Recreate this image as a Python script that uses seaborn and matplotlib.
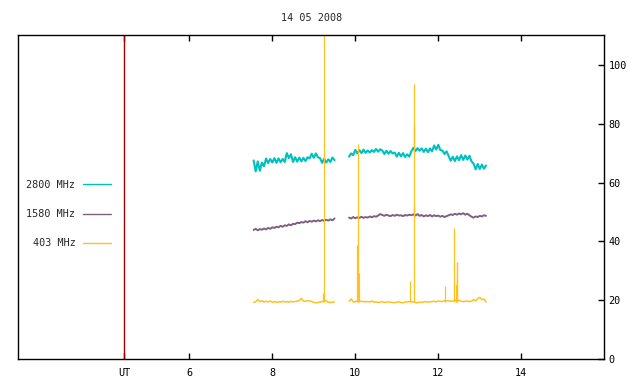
import numpy as np
import pandas as pd
import matplotlib
matplotlib.use("Agg")
import matplotlib.pyplot as plt
from matplotlib.lines import Line2D
import seaborn as sns

# time grids (UT hours), two observing segments
seg1_t = np.round(np.arange(7.55, 9.501, 0.05), 2)
seg2_t = np.round(np.arange(9.85, 13.151, 0.05), 2)

f2800_seg1 = [67.5, 63.8, 67.2, 64.0, 66.8,
              65.5, 68.2, 66.6, 68.0, 66.8,
              68.3, 66.7, 68.2, 66.9, 68.0, 67.0,
              70.0, 68.3, 69.6,
              67.0, 68.6, 67.1, 68.5, 67.2, 68.4, 67.3, 68.6,
              68.2, 69.8, 68.4, 69.9, 68.6,
              68.3, 66.7, 68.1, 66.8, 67.9,
              67.0, 68.5, 67.6]
f2800_seg2 = [68.8, 69.9, 69.3,
              71.1, 69.9, 71.0, 70.0, 71.2, 70.1, 70.9, 70.2, 71.0,
              70.4, 71.4, 70.5, 71.3,
              70.9, 69.7, 70.8, 69.8, 70.7, 69.9,
              70.2, 68.8, 70.1, 68.9, 70.0, 68.7, 69.6,
              68.8,
              70.6, 71.8, 70.7, 71.7, 70.8,
              71.6, 70.4, 71.5, 70.3, 71.6, 70.6,
              72.6, 71.2, 72.8, 71.0,
              70.9, 69.7, 70.6,
              69.0, 67.4, 68.8, 67.3, 68.9, 67.6,
              69.3, 67.7, 69.2, 67.8, 69.1, 67.2,
              66.4, 64.5, 66.3, 64.6, 66.1, 64.7, 65.8]

f1580_seg1 = [43.9, 44.3, 43.8, 44.2, 44.0, 44.4, 44.1, 44.6, 44.3, 44.8,
              44.6, 45.0, 44.8, 45.3, 45.0, 45.5, 45.3, 45.8, 45.5, 46.0,
              45.9, 46.4, 46.2, 46.6, 46.4, 46.9, 46.5, 47.0, 46.7, 47.1,
              46.8, 47.2, 46.9, 47.3, 47.0, 47.4, 47.1, 47.5, 47.2, 47.8]
f1580_seg2 = [48.1, 47.8, 48.3, 47.9, 48.2, 48.0, 48.4, 48.0, 48.3, 48.1,
              48.5, 48.2, 48.6, 48.4, 48.8, 49.3, 49.0, 48.7, 49.1, 48.8,
              48.6, 49.0, 48.7, 49.1, 48.8, 48.9, 48.6, 49.0, 48.8, 49.1,
              48.9, 49.2, 48.8, 49.3, 48.7, 49.0, 48.5, 48.9, 48.6, 49.0,
              48.5, 48.9, 48.6, 48.8, 48.4, 48.7, 48.3, 48.6, 48.9, 49.2,
              49.0, 49.4, 49.1, 49.5, 49.2, 49.6, 49.1, 49.4, 48.9, 48.4,
              48.1, 48.5, 48.3, 48.7, 48.5, 48.9, 48.7]

f403_seg1 = [19.3, 19.5, 20.3, 19.6, 19.9, 19.4, 19.7, 19.5, 19.8, 19.4,
             19.6, 19.3, 19.5, 19.4, 19.7, 19.5, 19.6, 19.4, 19.7, 19.5,
             19.6, 19.8, 19.9, 20.7, 19.8, 19.7, 19.9, 19.8, 19.7, 19.3,
             19.2, 19.3, 19.4, 19.6, 19.8, 19.9, 19.3, 19.4, 19.3, 19.5]
f403_seg2 = [19.6, 20.5, 19.5, 19.6, 19.8, 19.7, 19.7, 19.6, 19.5, 19.6,
             19.5, 19.8, 19.4, 19.5, 19.3, 19.4, 19.6, 19.3, 19.4, 19.5,
             19.4, 19.3, 19.2, 19.4, 19.5, 19.3, 19.2, 19.4, 19.5, 19.6,
             19.6, 19.5, 19.3, 19.2, 19.4, 19.3, 19.5, 19.6, 19.4, 19.5,
             19.6, 19.7, 19.5, 19.8, 19.7, 19.6, 19.9, 19.8, 19.9, 19.7,
             19.8, 20.1, 20.2, 20.0, 19.7, 19.6, 19.7, 19.8, 19.6, 19.7,
             20.3, 19.8, 20.6, 21.0, 20.2, 20.5, 19.4]

# short bursts (single samples, drawn as thin spikes)
spike_t = {"2800 MHz": [11.42], "1580 MHz": [11.42],
           "403 MHz": [9.22, 9.25, 10.04, 10.06, 10.08, 11.32, 11.42,
                       12.17, 12.39, 12.42, 12.44, 12.46]}
spike_lo = {"2800 MHz": [70.0], "1580 MHz": [49.0],
            "403 MHz": [19.5] * 12}
spike_hi = {"2800 MHz": [79.2], "1580 MHz": [51.8],
            "403 MHz": [22.6, 115.0, 38.8, 73.0, 29.4, 26.6, 93.5,
                        24.9, 44.6, 25.6, 33.0, 33.0]}

bands = ["2800 MHz", "1580 MHz", "403 MHz"]
colors = {"2800 MHz": "#00c0c0", "1580 MHz": "#806080", "403 MHz": "#ffc020"}
widths = {"2800 MHz": 1.5, "1580 MHz": 1.4, "403 MHz": 1.1}
ut_mark = 4.43

series = {"2800 MHz": (f2800_seg1, f2800_seg2),
          "1580 MHz": (f1580_seg1, f1580_seg2),
          "403 MHz": (f403_seg1, f403_seg2)}
rows = []
for b in bands:
    s1, s2 = series[b]
    for t, v in zip(seg1_t, s1):
        rows.append((b, 1, t, v))
    for t, v in zip(seg2_t, s2):
        rows.append((b, 2, t, v))
df = pd.DataFrame(rows, columns=["band", "seg", "t", "flux"])

sns.set_style("white")
plt.rcParams["font.family"] = ["DejaVu Sans Mono"]
plt.rcParams["font.size"] = 7.3

fig = plt.figure(figsize=(6.4, 3.84), dpi=100)
ax = fig.add_axes([18.3 / 640, 1 - 359.3 / 384, (604.3 - 18.3) / 640, (359.3 - 35.3) / 384])

for b in bands:
    sub = df[df["band"] == b]
    sns.lineplot(data=sub, x="t", y="flux", units="seg", estimator=None,
                 color=colors[b], linewidth=widths[b], ax=ax, legend=False)
    ax.vlines(spike_t[b], spike_lo[b], spike_hi[b], color=colors[b], linewidth=0.9)

ax.axvline(ut_mark, color="#a00000", linewidth=1.0)

ax.set_xlim(1.88, 16.0)
ax.set_ylim(0, 110)
ax.set_xticks([ut_mark, 6, 8, 10, 12, 14])
ax.set_xticklabels(["UT", "6", "8", "10", "12", "14"])
ax.set_yticks([0, 20, 40, 60, 80, 100])
ax.yaxis.tick_right()
ax.tick_params(axis="x", direction="in", top=True, bottom=True, length=4, width=1, pad=6, colors="black")
ax.tick_params(axis="y", direction="in", right=True, left=False, length=4, width=1, pad=3, colors="black")
ax.set_xlabel("")
ax.set_ylabel("")
for sp in ax.spines.values():
    sp.set_visible(True)
    sp.set_color("black")
    sp.set_linewidth(1.0)

handles = [Line2D([], [], color=colors[b], linewidth=1.0) for b in bands]
ax.legend(handles, bands, markerfirst=False, frameon=False, loc="upper left",
          bbox_to_anchor=(0.007, 0.566), handlelength=2.85, handletextpad=0.7,
          labelspacing=1.9, borderaxespad=0.0)

ax.set_title("14 05 2008", fontsize=7.3, pad=10)

fig.savefig("out.png", dpi=100)
